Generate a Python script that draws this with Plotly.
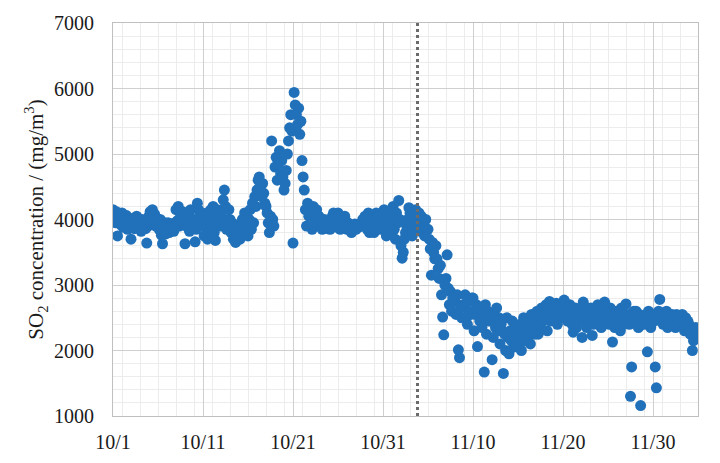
import pandas as pd
import plotly.graph_objects as go

# SO2 readings every 3 hours (8 per day), starting 10/1 00:00
start_time = "2019-10-01 00:00"
step_hours = 3

oct01_10 = [
    4150, 4080, 3950, 4120, 3750, 4000, 4050, 3920,
    4100, 3880, 4020, 3950, 4060, 3850, 3990, 3920,
    3700, 3950, 4020, 3860, 3920, 4050, 3980, 3880,
    3950, 3820, 4000, 3880, 3940, 3860, 3640, 3900,
    4050, 4120, 3920, 4150, 3950, 4080, 3900, 4020,
    3900, 3850, 4000, 3760, 3630, 3820, 3950, 3780,
    3850, 3950, 3800, 3900, 3860, 3940, 3820, 3900,
    4150, 3980, 4200, 3900, 4080, 3950, 4120, 4020,
    3630, 3900, 4100, 4050, 3820, 4150, 3950, 4000,
    4000, 3660, 3850, 4250, 4150, 3950, 4080, 3900,
]
oct11_20 = [
    4050, 3750, 3900, 4100, 3700, 4000, 3850, 4150,
    3950, 4200, 3800, 3680, 4050, 4150, 3900, 4000,
    4100, 3900, 4300, 4450, 4200, 3850, 4000, 4150,
    4000, 3800, 3950, 3700, 3900, 3650, 3850, 3750,
    3850, 3700, 3950, 4000, 3800, 4100, 3900, 4050,
    3750, 4000, 4150, 3850, 4250, 3950, 4350, 4200,
    4450, 4600, 4650, 4500, 4350, 4550, 4400, 4250,
    4200, 4100, 3950, 3800, 4050, 5200, 4000, 3900,
    4800, 4950, 4600, 4850, 5050, 4700, 4900, 4650,
    4450, 4550, 4750, 5000, 5200, 5400, 5600, 5350,
]
oct21_30 = [
    3640, 5940, 5750, 5600, 5450, 5700, 5300, 5500,
    4900, 4650, 4450, 4150, 3900, 4250, 4050, 4200,
    4100, 3850, 4200, 4000, 3950, 4150, 3900, 4050,
    3900, 3950, 3850, 3920, 4000, 3880, 3950, 3860,
    3950, 3850, 3900, 4050, 4100, 3950, 4000, 3880,
    4100, 3900, 3850, 4000, 3950, 3900, 4050, 3870,
    3850, 3950, 3900, 3850, 3800, 3900, 3870, 3930,
    3850, 3900, 3880, None, None, 3950, 4000, 3900,
    4050, 3900, 3850, 4100, 3800, 3950, 4000, 3880,
    3800, 3950, 4100, 4000, 3900, 4050, 3850, 3980,
]
oct31_nov09 = [
    3900, 4150, 3850, 3750, 4000, 3950, 4100, 3800,
    4050, 4200, 3850, 3700, 4100, 3950, 4290, 4000,
    3600, 3410, 3500, 3700, 3800, 3900, 4000, 4180,
    4100, 3900, 3750, 4050, 3950, 4150, 3850, 4000,
    4100, 3950, 4050, 3800, 3900, 3750, 4000, 3850,
    3850, 3700, 3550, 3150, 3650, 3500, 3400, 3600,
    3400, 3250, 3100, 3300, 2850, 2510, 2240, 3000,
    3100, 3460, 2950, 2700, 2900, 2600, 2800, 2750,
    2750, 2550, 2850, 2010, 1890, 2650, 2500, 2700,
    2700, 2850, 2500, 2400, 2600, 2750, 2550, 2800,
]
nov10_19 = [
    2800, 2300, 2550, 2700, 2060, 2650, 2450, 2600,
    2350, 2500, 1670, 2700, 2250, 2600, 2450, 2550,
    2450, 1860, 2200, 2550, 2350, 2650, 2300, 2500,
    2100, 2400, 2300, 1650, 2250, 2000, 2500, 2200,
    1950, 2300, 2150, 2450, 2050, 2200, 2350, 2100,
    2250, 2100, 2400, 2000, 2300, 2500, 2150, 2350,
    2350, 2200, 2450, 2100, 2550, 2300, 2400, 2250,
    2400, 2600, 2250, 2500, 2350, 2650, 2450, 2550,
    2500, 2700, 2300, 2600, 2750, 2450, 2650, 2550,
    2650, 2550, 2720, 2400, 2600, 2700, 2500, 2650,
]
nov20_29 = [
    2600, 2770, 2500, 2650, 2450, 2550, 2700, 2600,
    2400, 2280, 2550, 2650, 2350, 2500, 2600, 2450,
    2600, 2200, 2740, 2450, 2550, 2350, 2650, 2500,
    2500, 2650, 2230, 2400, 2600, 2550, 2450, 2700,
    2450, 2600, 2350, 2700, 2500, 2740, 2550, 2650,
    2550, 2400, 2650, 2500, 2130, 2600, 2350, 2450,
    2600, 2450, 2550, 2300, 2650, 2500, 2400, 2550,
    2710, 2450, 2550, 2400, 1300, 1750, 2500, 2600,
    2500, 2600, 2450, 2350, 2550, 1160, 2400, 2500,
    2400, 2500, 2550, 1980, 2600, 2450, 2350, 2500,
]
nov30_dec04 = [
    2550, 2450, 1750, 1430, 2500, 2600, 2780, 2450,
    2500, 2400, 2550, 2450, 2600, 2350, 2500, 2550,
    2450, 2550, 2400, 2500, 2350, 2550, 2450, 2500,
    2500, 2450, 2550, 2400, 2300, 2500, 2350, 2450,
    2400, 2250, 2350, 2000, 2150, 2300, 2350, 2250,
]

event_time = "2019-11-03 20:00"
x_start = "2019-10-01"
x_end = "2019-12-05"

values = oct01_10 + oct11_20 + oct21_30 + oct31_nov09 + nov10_19 + nov20_29 + nov30_dec04
times = pd.date_range(start=start_time, periods=len(values), freq=f"{step_hours}h")

font_family = "Liberation Serif"

fig = go.Figure()
fig.add_trace(go.Scatter(
    x=times, y=values, mode="markers",
    marker=dict(size=11, color="#2171BA", line=dict(width=0)),
    showlegend=False,
))

fig.add_shape(type="line", xref="x", yref="paper",
              x0=event_time, x1=event_time, y0=0, y1=1,
              line=dict(color="#6b6b6b", width=3, dash="dot"))

# page body has an 8px margin, so the figure is sized to fit the window
fig.update_layout(
    width=712, height=455,
    margin=dict(l=105, r=22, t=15, b=47),
    paper_bgcolor="white", plot_bgcolor="white",
    font=dict(family=font_family, size=20, color="#1a1a1a"),
)
fig.update_xaxes(
    type="date", range=[x_start, x_end], automargin=False,
    tick0="2019-10-01", dtick=10 * 86400000, tickformat="%-m/%-d",
    showgrid=True, gridcolor="#cfcfcf", gridwidth=1,
    minor=dict(dtick=2 * 86400000, showgrid=True, gridcolor="#ececec", gridwidth=1),
    showline=True, linecolor="#bfbfbf", linewidth=1, mirror=True,
    ticks="", ticklabelstandoff=8,
    tickfont=dict(size=20, family=font_family),
    zeroline=False,
)
fig.update_yaxes(
    range=[1000, 7000], dtick=1000, automargin=False,
    showgrid=True, gridcolor="#cfcfcf", gridwidth=1,
    minor=dict(dtick=200, showgrid=True, gridcolor="#ececec", gridwidth=1),
    showline=True, linecolor="#bfbfbf", linewidth=1, mirror=True,
    ticks="", ticklabelstandoff=14,
    tickfont=dict(size=20, family=font_family),
    title=dict(text="SO<sub>2</sub> concentration / (mg/m<sup>3</sup>)",
               font=dict(size=21, family=font_family), standoff=4),
    zeroline=False,
)

fig.write_html("out.html")
